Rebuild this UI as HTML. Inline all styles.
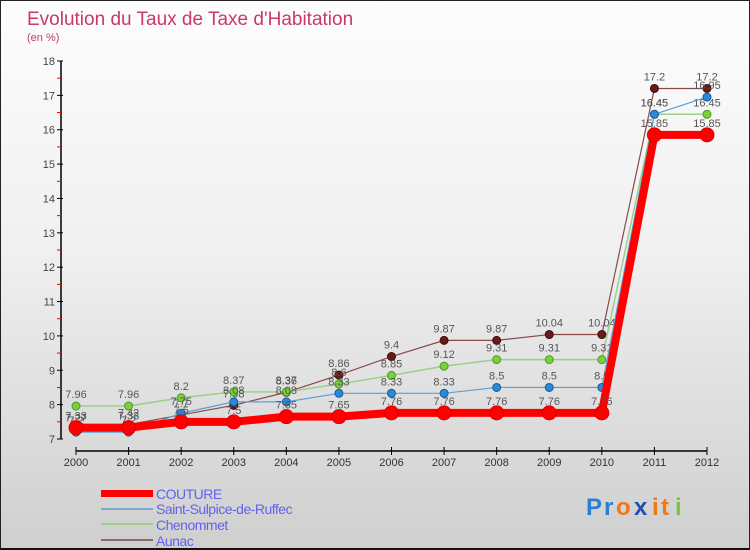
<!DOCTYPE html>
<html><head><meta charset="utf-8"><style>
body{margin:0}
#c{width:750px;height:550px;position:relative;overflow:hidden;font-family:"Liberation Sans",sans-serif;background:linear-gradient(#fdfdfd 0%,#f0f0f0 45%,#cfcfcf 100%);box-sizing:border-box;border:1px solid #222;border-bottom:2px solid #111}
</style></head><body>
<div id="c">
<svg width="750" height="550" id="s">
<text x="26" y="24" font-size="19" fill="#c8396a">Evolution du Taux de Taxe d'Habitation</text>
<text x="26" y="40" font-size="11" fill="#c8396a">(en %)</text>
<g id="g"></g>
<g>
<rect x="100" y="489" width="52" height="7" fill="#f00"/>
<rect x="100" y="507" width="52" height="2" fill="#7fa9cc"/>
<rect x="100" y="522" width="52" height="2" fill="#9ad08a"/>
<rect x="100" y="538" width="52" height="2" fill="#8b6a6a"/>
<g font-size="14" fill="#6262ee" style="letter-spacing:-0.5px">
<text x="155" y="498">COUTURE</text>
<text x="155" y="513">Saint-Sulpice-de-Ruffec</text>
<text x="155" y="529">Chenommet</text>
<text x="155" y="545">Aunac</text>
</g></g>
<g font-size="24" font-weight="bold">
<text x="585" y="514" fill="#2a7fd0">P</text><text x="603" y="514" fill="#2a7fd0">r</text>
<text x="615" y="514" fill="#f07818">o</text><text x="633" y="514" fill="#2050b0">x</text>
<text x="651" y="514" fill="#f07818">i</text><text x="660" y="514" fill="#f07818">t</text><text x="674" y="514" fill="#7cc43a">i</text>
</g>
</svg></div>
<script>
const years=["2000","2001","2002","2003","2004","2005","2006","2007","2008","2009","2010","2011","2012"];
const yTicks=[7,8,9,10,11,12,13,14,15,16,17,18];
const couture=[7.33,7.33,7.5,7.5,7.65,7.65,7.76,7.76,7.76,7.76,7.76,15.85,15.85];
const sulpice=[7.2,7.2,7.75,8.08,8.08,8.33,8.33,8.33,8.5,8.5,8.5,16.45,16.95];
const chenommet=[7.96,7.96,8.2,8.37,8.37,8.6,8.85,9.12,9.31,9.31,9.31,16.45,16.45];
const aunac=[7.27,7.42,7.7,7.98,8.36,8.86,9.4,9.87,9.87,10.04,10.04,17.2,17.2];
const NS="http://www.w3.org/2000/svg",g=document.getElementById('g');
const X=i=>75+i*(706-75)/12, Y=v=>438-(v-7)*(378/11);
function mk(t,a){const e=document.createElementNS(NS,t);for(const k in a)e.setAttribute(k,a[k]);g.appendChild(e);return e;}
let ax=mk('line',{x1:60,y1:60,x2:60,y2:438,stroke:'#000','stroke-width':1.5});

let xa=mk('line',{x1:75,y1:450,x2:706,y2:450,stroke:'#000','stroke-width':1.5});

yTicks.forEach(v=>{mk('line',{x1:56,x2:62,y1:Y(v),y2:Y(v),stroke:'#000'});
 if(v<18)mk('line',{x1:56,x2:60,y1:Y(v+0.5),y2:Y(v+0.5),stroke:'#e00'});
 const t=mk('text',{x:54,y:Y(v)+4,'font-size':11,fill:'#444','text-anchor':'end'});t.textContent=v;
 });
years.forEach((yr,i)=>{mk('line',{x1:X(i),x2:X(i),y1:446,y2:454,stroke:'#000'});
 const t=mk('text',{x:X(i),y:465,'font-size':11,fill:'#333','text-anchor':'middle'});t.textContent=yr;
 });
function series(d,name,col,w,r,dot,stroke){
 const p=mk('polyline',{points:d.map((v,i)=>X(i)+','+Y(v)).join(' '),fill:'none',stroke:col,'stroke-width':w,'stroke-linejoin':'round'});
 
 d.forEach((v,i)=>{const c=mk('circle',{cx:X(i),cy:Y(v),r:r,fill:dot,stroke:stroke,'stroke-width':1});
  
  const t=mk('text',{x:X(i),y:Y(v)-8,'font-size':11,fill:'#555','text-anchor':'middle'});t.textContent=v;
  });
}
series(aunac,'aunac','#8b4a4a',1.2,4,'#6b1a1a','#3a0a0a');
series(chenommet,'chenommet','#9ad08a',1.5,4,'#7ccf3a','#4a9a2a');
series(sulpice,'saint-sulpice','#5aa0d8',1.2,4,'#2a8ad8','#1a5a9a');
series(couture,'couture','#f00',8,7,'#f00','#d00');
</script></body></html>
